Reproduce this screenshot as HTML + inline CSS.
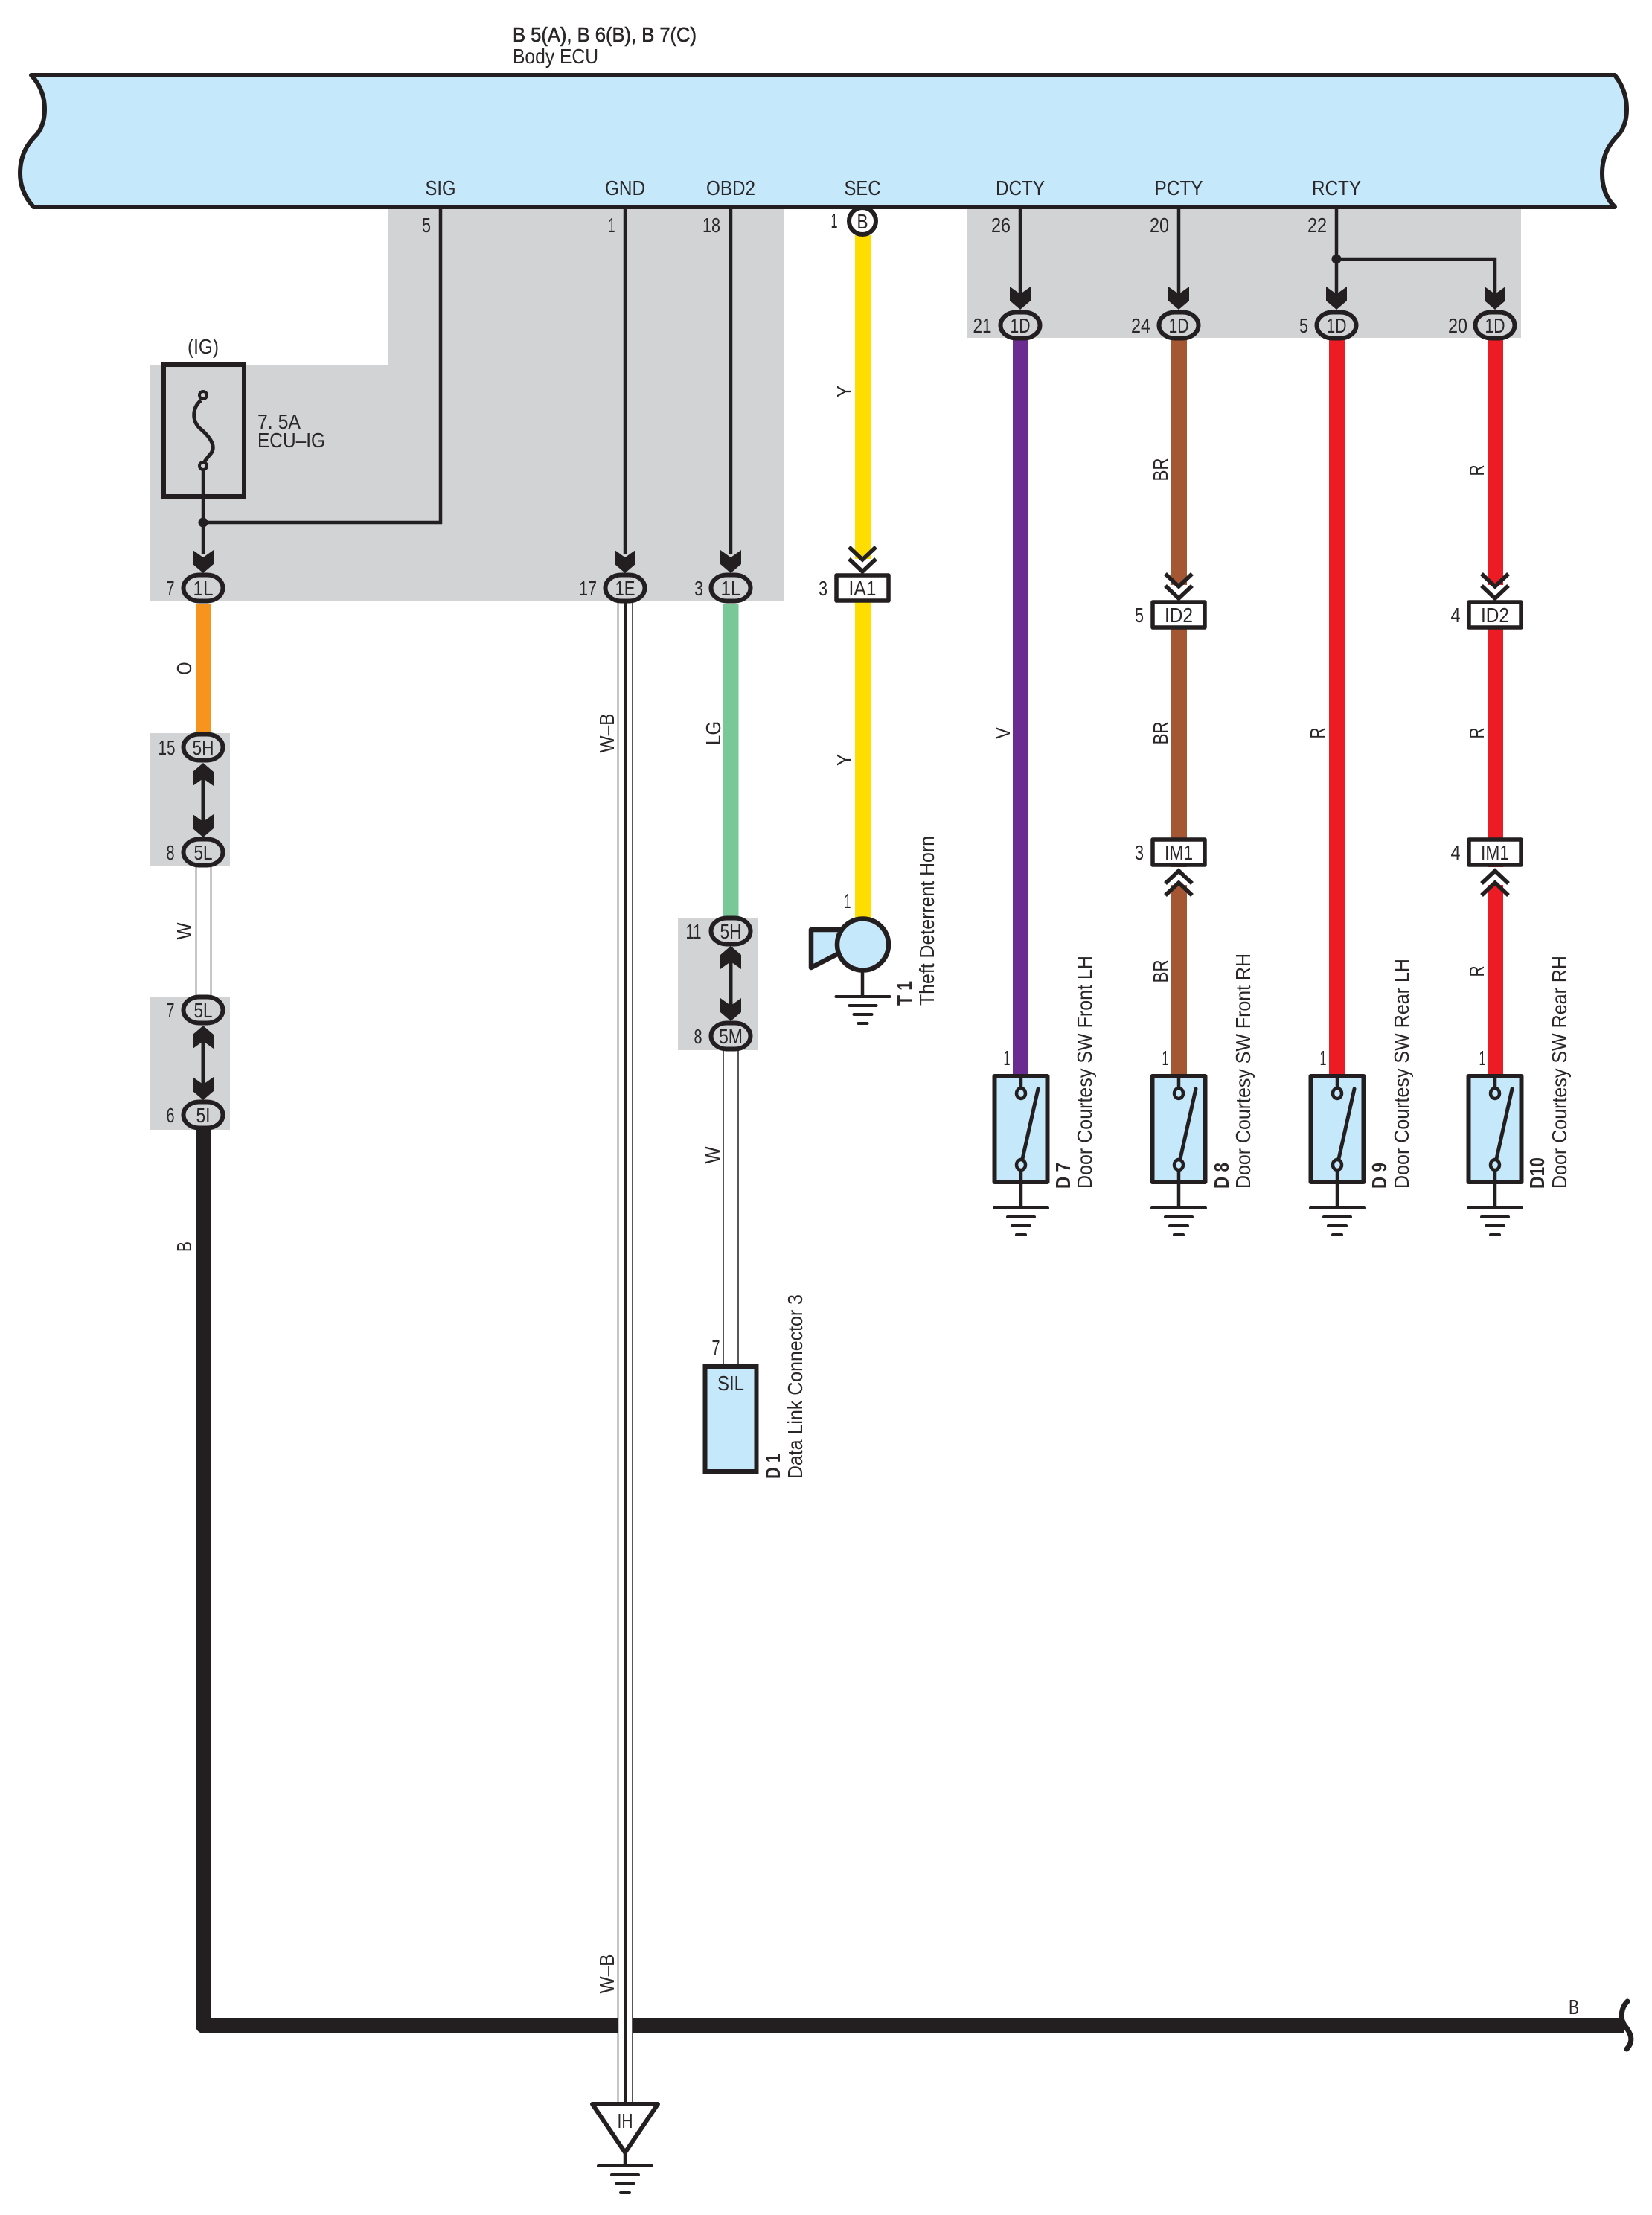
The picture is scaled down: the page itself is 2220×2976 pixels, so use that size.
<!DOCTYPE html>
<html><head><meta charset="utf-8"><style>
html,body{margin:0;padding:0;background:#fff}
svg{display:block}
text{font-family:"Liberation Sans",sans-serif;font-size:28px;fill:#2b2728;text-anchor:middle}
.l{text-anchor:start}
.r{text-anchor:end}
.b{font-weight:bold}
</style></head><body>
<svg xmlns="http://www.w3.org/2000/svg" width="2220" height="2976" viewBox="0 0 2220 2976">
<defs>
<g id="ar"><polygon points="-14,-31 0,-21 14,-31 14,-12 0,0 -14,-12" fill="#231f20"/></g>
<g id="co"><rect x="-26.5" y="-17.5" width="53" height="35" rx="21" ry="17.5" fill="#d1d3d4" stroke="#231f20" stroke-width="6"/></g>
<g id="bx"><rect x="-35" y="-17" width="70" height="34" fill="#fff" stroke="#231f20" stroke-width="5.5" stroke-linejoin="round"/></g>
<g id="ch" fill="none" stroke="#231f20" stroke-width="5.5"><polyline points="-18,0 0,17 18,0"/><polyline points="-18,16 0,33 18,16"/></g>
<g id="cu" fill="none" stroke="#231f20" stroke-width="5.5"><polyline points="-18,-0 0,-17 18,-0"/><polyline points="-18,-16 0,-33 18,-16"/></g>
<g id="gd" stroke="#231f20" stroke-width="4" stroke-linecap="round"><line x1="-36" x2="36" y1="0" y2="0"/><line x1="-18" x2="18" y1="12" y2="12"/><line x1="-12" x2="12" y1="24" y2="24"/><line x1="-6" x2="6" y1="36" y2="36"/></g>
<g id="sw">
<rect x="-35.5" y="2" width="71" height="142" fill="#c5e8fb" stroke="#231f20" stroke-width="6" stroke-linejoin="round"/>
<line x1="0" x2="0" y1="0" y2="18" stroke="#231f20" stroke-width="4.5"/>
<ellipse cx="0" cy="25" rx="6" ry="7" fill="#c5e8fb" stroke="#231f20" stroke-width="4.5"/>
<ellipse cx="0" cy="121" rx="6" ry="7" fill="#c5e8fb" stroke="#231f20" stroke-width="4.5"/>
<line x1="2" x2="23" y1="113" y2="19" stroke="#231f20" stroke-width="5" stroke-linecap="round"/>
<line x1="0" x2="0" y1="128" y2="144" stroke="#231f20" stroke-width="4.5"/>
<line x1="0" x2="0" y1="144" y2="179" stroke="#231f20" stroke-width="4.5"/>
<use href="#gd" y="179"/>
</g>
</defs>

<!-- grey areas -->
<polygon points="521,278 1053,278 1053,808 202,808 202,490 521,490" fill="#d1d3d4"/>
<rect x="1300" y="278" width="744" height="176" fill="#d1d3d4"/>
<rect x="202" y="985" width="107" height="178" fill="#d1d3d4"/>
<rect x="202" y="1340" width="107" height="178" fill="#d1d3d4"/>
<rect x="911" y="1233" width="107" height="178" fill="#d1d3d4"/>

<!-- ECU -->
<path d="M42,101 L2170,101 C2182,116 2186,132 2186,147 C2186,162 2182,172 2176,180 C2166,190 2153,205 2153,233 C2153,253 2160,268 2170,278 L45,278 C36,268 27,253 27,233 C27,205 40,190 50,180 C56,172 60,162 60,147 C60,132 56,116 42,101 Z" fill="#c5e8fb" stroke="#231f20" stroke-width="6" stroke-linejoin="round"/>

<text class="l" x="689" y="56" textLength="247" lengthAdjust="spacingAndGlyphs" stroke="#231f20" stroke-width=".6">B 5(A), B 6(B), B 7(C)</text>
<text class="l" x="689" y="85" textLength="115" lengthAdjust="spacingAndGlyphs">Body ECU</text>
<text x="592" y="262" textLength="41" lengthAdjust="spacingAndGlyphs">SIG</text>
<text x="840" y="262" textLength="54" lengthAdjust="spacingAndGlyphs">GND</text>
<text x="982" y="262" textLength="66" lengthAdjust="spacingAndGlyphs">OBD2</text>
<text x="1159" y="262" textLength="49" lengthAdjust="spacingAndGlyphs">SEC</text>
<text x="1371" y="262" textLength="66" lengthAdjust="spacingAndGlyphs">DCTY</text>
<text x="1584" y="262" textLength="65" lengthAdjust="spacingAndGlyphs">PCTY</text>
<text x="1796" y="262" textLength="66" lengthAdjust="spacingAndGlyphs">RCTY</text>

<!-- thin wires -->
<g stroke="#231f20" stroke-width="4.5" fill="none">
<polyline points="273,631 273,745"/>
<polyline points="273,702 592,702 592,278"/>
<line x1="840" x2="840" y1="278" y2="745"/>
<line x1="982" x2="982" y1="278" y2="745"/>
<line x1="1371" x2="1371" y1="278" y2="395"/>
<line x1="1584" x2="1584" y1="278" y2="395"/>
<line x1="1796" x2="1796" y1="278" y2="395"/>
<polyline points="1796,348 2009,348 2009,395"/>
</g>
<circle cx="273" cy="702" r="6.5" fill="#231f20"/>
<circle cx="1796" cy="348" r="6.5" fill="#231f20"/>

<!-- fuse -->
<rect x="220" y="490" width="108" height="177" fill="none" stroke="#231f20" stroke-width="6"/>
<path d="M270,538 C258,548 258,565 268,575 C280,585 294,600 281,612 L275,620" fill="none" stroke="#231f20" stroke-width="5"/>
<ellipse cx="273" cy="531" rx="5" ry="5" fill="#d1d3d4" stroke="#231f20" stroke-width="4"/>
<ellipse cx="273" cy="626" rx="5" ry="5" fill="#d1d3d4" stroke="#231f20" stroke-width="4"/>
<text x="273" y="475" textLength="42" lengthAdjust="spacingAndGlyphs">(IG)</text>
<text class="l" x="346" y="576" textLength="58" lengthAdjust="spacingAndGlyphs">7. 5A</text>
<text class="l" x="346" y="601" textLength="91" lengthAdjust="spacingAndGlyphs">ECU–IG</text>

<!-- black B wire -->
<path d="M273.5,1518 L273.5,2721.5 L2183,2721.5" fill="none" stroke="#231f20" stroke-width="21" stroke-linejoin="round"/>
<path d="M2187,2689 C2178,2698 2177,2712 2183,2721 C2192,2732 2196,2742 2186,2753" fill="none" stroke="#231f20" stroke-width="7" stroke-linecap="round"/>
<text x="2115" y="2706" textLength="14" lengthAdjust="spacingAndGlyphs">B</text>

<!-- colored wires -->
<rect x="263" y="811" width="21" height="172" fill="#f7941d"/>
<rect x="971.5" y="811" width="21" height="421" fill="#7ac797"/>
<rect x="1149" y="316" width="21" height="435" fill="#ffdd00"/>
<rect x="1149" y="808" width="21" height="426" fill="#ffdd00"/>
<rect x="1361" y="456" width="21" height="988" fill="#6b2c91"/>
<rect x="1574" y="456" width="21" height="330" fill="#a55632"/>
<rect x="1574" y="845" width="21" height="282" fill="#a55632"/>
<rect x="1574" y="1163" width="21" height="281" fill="#a55632"/>
<rect x="1786" y="456" width="21" height="988" fill="#ed1c24"/>
<rect x="1999" y="456" width="21" height="330" fill="#ed1c24"/>
<rect x="1999" y="845" width="21" height="282" fill="#ed1c24"/>
<rect x="1999" y="1163" width="21" height="281" fill="#ed1c24"/>

<!-- white-gap overdraw for arrows from below IM1 -->
<rect x="1570" y="1165" width="29" height="24" fill="#fff"/>
<rect x="1995" y="1165" width="29" height="24" fill="#fff"/>
<polygon points="1574,1195 1584.5,1186 1595,1195" fill="#a55632"/>
<polygon points="1999,1195 2009.5,1186 2020,1195" fill="#ed1c24"/>

<!-- W wires -->
<g stroke="#231f20" stroke-width="1.5">
<line x1="263.5" x2="263.5" y1="1163" y2="1340"/>
<line x1="283.5" x2="283.5" y1="1163" y2="1340"/>
<line x1="972" x2="972" y1="1411" y2="1836"/>
<line x1="992" x2="992" y1="1411" y2="1836"/>
</g>

<!-- W-B wire -->
<rect x="830.5" y="808" width="19.5" height="2019" fill="#fff"/>
<line x1="830.5" x2="830.5" y1="808" y2="2827" stroke="#231f20" stroke-width="1.5"/>
<line x1="850" x2="850" y1="808" y2="2827" stroke="#231f20" stroke-width="1.5"/>
<line x1="840.5" x2="840.5" y1="808" y2="2827" stroke="#231f20" stroke-width="5"/>

<!-- IH -->
<polygon points="796,2827 884,2827 840,2892" fill="#fff" stroke="#231f20" stroke-width="6" stroke-linejoin="round"/>
<line x1="840" x2="840" y1="2892" y2="2910" stroke="#231f20" stroke-width="4.5"/>
<use href="#gd" x="840" y="2910"/>
<text x="840" y="2859" textLength="21" lengthAdjust="spacingAndGlyphs">IH</text>

<!-- arrows in grey -->
<use href="#ar" x="273" y="770"/>
<use href="#ar" x="840" y="770"/>
<use href="#ar" x="982" y="770"/>
<use href="#ar" x="1371" y="416"/>
<use href="#ar" x="1584" y="416"/>
<use href="#ar" x="1796" y="416"/>
<use href="#ar" x="2009" y="416"/>

<!-- double arrows -->
<g stroke="#231f20" stroke-width="5">
<line x1="273" x2="273" y1="1040" y2="1110"/>
<line x1="273" x2="273" y1="1393" y2="1465"/>
<line x1="982" x2="982" y1="1285" y2="1355"/>
</g>
<use href="#ar" transform="translate(273,1025) scale(1,-1)"/>
<use href="#ar" x="273" y="1125"/>
<use href="#ar" transform="translate(273,1378) scale(1,-1)"/>
<use href="#ar" x="273" y="1478"/>
<use href="#ar" transform="translate(982,1271) scale(1,-1)"/>
<use href="#ar" x="982" y="1372"/>

<!-- oval connectors -->
<use href="#co" x="273" y="790"/><text x="273" y="800" textLength="27" lengthAdjust="spacingAndGlyphs">1L</text>
<use href="#co" x="840" y="790"/><text x="840" y="800" textLength="27" lengthAdjust="spacingAndGlyphs">1E</text>
<use href="#co" x="982" y="790"/><text x="982" y="800" textLength="27" lengthAdjust="spacingAndGlyphs">1L</text>
<use href="#co" x="273" y="1004"/><text x="273" y="1014" textLength="29" lengthAdjust="spacingAndGlyphs">5H</text>
<use href="#co" x="273" y="1145"/><text x="273" y="1155" textLength="25" lengthAdjust="spacingAndGlyphs">5L</text>
<use href="#co" x="273" y="1357"/><text x="273" y="1367" textLength="25" lengthAdjust="spacingAndGlyphs">5L</text>
<use href="#co" x="273" y="1498"/><text x="273" y="1508" textLength="19" lengthAdjust="spacingAndGlyphs">5I</text>
<use href="#co" x="982" y="1251"/><text x="982" y="1261" textLength="29" lengthAdjust="spacingAndGlyphs">5H</text>
<use href="#co" x="982" y="1392"/><text x="982" y="1402" textLength="32" lengthAdjust="spacingAndGlyphs">5M</text>
<use href="#co" x="1371" y="437"/><text x="1371" y="447" textLength="27" lengthAdjust="spacingAndGlyphs">1D</text>
<use href="#co" x="1584" y="437"/><text x="1584" y="447" textLength="27" lengthAdjust="spacingAndGlyphs">1D</text>
<use href="#co" x="1796" y="437"/><text x="1796" y="447" textLength="27" lengthAdjust="spacingAndGlyphs">1D</text>
<use href="#co" x="2009" y="437"/><text x="2009" y="447" textLength="27" lengthAdjust="spacingAndGlyphs">1D</text>

<!-- SEC connector -->
<circle cx="1159" cy="297" r="18" fill="#fff" stroke="#231f20" stroke-width="6"/>
<text x="1159" y="307" textLength="15" lengthAdjust="spacingAndGlyphs">B</text>

<!-- chevrons & box connectors -->
<use href="#ch" x="1159" y="735"/>
<use href="#bx" x="1159" y="790"/><text x="1159" y="800" textLength="37" lengthAdjust="spacingAndGlyphs">IA1</text>
<use href="#ch" x="1584" y="771"/>
<use href="#bx" x="1584" y="826"/><text x="1584" y="836" textLength="38" lengthAdjust="spacingAndGlyphs">ID2</text>
<use href="#ch" x="2009" y="771"/>
<use href="#bx" x="2009" y="826"/><text x="2009" y="836" textLength="38" lengthAdjust="spacingAndGlyphs">ID2</text>
<use href="#cu" x="1584" y="1203"/>
<use href="#bx" x="1584" y="1145"/><text x="1584" y="1155" textLength="38" lengthAdjust="spacingAndGlyphs">IM1</text>
<use href="#cu" x="2009" y="1203"/>
<use href="#bx" x="2009" y="1145"/><text x="2009" y="1155" textLength="38" lengthAdjust="spacingAndGlyphs">IM1</text>

<!-- pin numbers -->
<text x="573" y="312" textLength="12" lengthAdjust="spacingAndGlyphs">5</text>
<text x="822" y="312" textLength="9" lengthAdjust="spacingAndGlyphs">1</text>
<text x="956" y="312" textLength="24" lengthAdjust="spacingAndGlyphs">18</text>
<text x="1345" y="312" textLength="26" lengthAdjust="spacingAndGlyphs">26</text>
<text x="1558" y="312" textLength="26" lengthAdjust="spacingAndGlyphs">20</text>
<text x="1770" y="312" textLength="26" lengthAdjust="spacingAndGlyphs">22</text>
<text x="1121" y="306" textLength="9" lengthAdjust="spacingAndGlyphs">1</text>
<text x="229" y="800" textLength="11" lengthAdjust="spacingAndGlyphs">7</text>
<text x="790" y="800" textLength="24" lengthAdjust="spacingAndGlyphs">17</text>
<text x="939" y="800" textLength="12" lengthAdjust="spacingAndGlyphs">3</text>
<text x="1106" y="800" textLength="12" lengthAdjust="spacingAndGlyphs">3</text>
<text x="1320" y="447" textLength="25" lengthAdjust="spacingAndGlyphs">21</text>
<text x="1533" y="447" textLength="26" lengthAdjust="spacingAndGlyphs">24</text>
<text x="1752" y="447" textLength="12" lengthAdjust="spacingAndGlyphs">5</text>
<text x="1959" y="447" textLength="26" lengthAdjust="spacingAndGlyphs">20</text>
<text x="1531" y="836" textLength="12" lengthAdjust="spacingAndGlyphs">5</text>
<text x="1956" y="836" textLength="13" lengthAdjust="spacingAndGlyphs">4</text>
<text x="1531" y="1155" textLength="12" lengthAdjust="spacingAndGlyphs">3</text>
<text x="1956" y="1155" textLength="13" lengthAdjust="spacingAndGlyphs">4</text>
<text x="224" y="1014" textLength="23" lengthAdjust="spacingAndGlyphs">15</text>
<text x="229" y="1155" textLength="11" lengthAdjust="spacingAndGlyphs">8</text>
<text x="229" y="1367" textLength="11" lengthAdjust="spacingAndGlyphs">7</text>
<text x="229" y="1508" textLength="11" lengthAdjust="spacingAndGlyphs">6</text>
<text x="932" y="1261" textLength="21" lengthAdjust="spacingAndGlyphs">11</text>
<text x="938" y="1402" textLength="11" lengthAdjust="spacingAndGlyphs">8</text>
<text x="962" y="1820" textLength="11" lengthAdjust="spacingAndGlyphs">7</text>
<text x="1139" y="1220" textLength="9" lengthAdjust="spacingAndGlyphs">1</text>
<text x="1353" y="1431" textLength="9" lengthAdjust="spacingAndGlyphs">1</text>
<text x="1566" y="1431" textLength="9" lengthAdjust="spacingAndGlyphs">1</text>
<text x="1778" y="1431" textLength="9" lengthAdjust="spacingAndGlyphs">1</text>
<text x="1992" y="1431" textLength="9" lengthAdjust="spacingAndGlyphs">1</text>

<!-- SIL -->
<rect x="947.5" y="1836" width="69" height="141" fill="#c5e8fb" stroke="#231f20" stroke-width="6"/>
<text x="982" y="1868" textLength="36" lengthAdjust="spacingAndGlyphs">SIL</text>

<!-- Horn -->
<polygon points="1090,1249 1132,1249 1127,1281 1090,1300" fill="#c5e8fb" stroke="#231f20" stroke-width="6.5" stroke-linejoin="round"/>
<circle cx="1159.5" cy="1269" r="34.5" fill="#c5e8fb" stroke="#231f20" stroke-width="6.5"/>
<line x1="1159" x2="1159" y1="1305" y2="1339" stroke="#231f20" stroke-width="4.5"/>
<use href="#gd" x="1159.5" y="1339"/>

<!-- switches -->
<use href="#sw" x="1372" y="1444"/>
<use href="#sw" x="1584" y="1444"/>
<use href="#sw" x="1797" y="1444"/>
<use href="#sw" x="2009" y="1444"/>

<!-- rotated wire colour labels -->
<g>
<text transform="translate(257,898) rotate(-90)" textLength="17" lengthAdjust="spacingAndGlyphs">O</text>
<text transform="translate(257,1251) rotate(-90)" textLength="23" lengthAdjust="spacingAndGlyphs">W</text>
<text transform="translate(257,1675) rotate(-90)" textLength="14" lengthAdjust="spacingAndGlyphs">B</text>
<text transform="translate(825,985) rotate(-90)" textLength="53" lengthAdjust="spacingAndGlyphs">W–B</text>
<text transform="translate(825,2652) rotate(-90)" textLength="53" lengthAdjust="spacingAndGlyphs">W–B</text>
<text transform="translate(968,985) rotate(-90)" textLength="32" lengthAdjust="spacingAndGlyphs">LG</text>
<text transform="translate(967,1552) rotate(-90)" textLength="23" lengthAdjust="spacingAndGlyphs">W</text>
<text transform="translate(1144,526) rotate(-90)" textLength="16" lengthAdjust="spacingAndGlyphs">Y</text>
<text transform="translate(1144,1021) rotate(-90)" textLength="16" lengthAdjust="spacingAndGlyphs">Y</text>
<text transform="translate(1357,985) rotate(-90)" textLength="16" lengthAdjust="spacingAndGlyphs">V</text>
<text transform="translate(1569,631) rotate(-90)" textLength="31" lengthAdjust="spacingAndGlyphs">BR</text>
<text transform="translate(1569,985) rotate(-90)" textLength="31" lengthAdjust="spacingAndGlyphs">BR</text>
<text transform="translate(1569,1305) rotate(-90)" textLength="31" lengthAdjust="spacingAndGlyphs">BR</text>
<text transform="translate(1780,985) rotate(-90)" textLength="15" lengthAdjust="spacingAndGlyphs">R</text>
<text transform="translate(1994,632) rotate(-90)" textLength="15" lengthAdjust="spacingAndGlyphs">R</text>
<text transform="translate(1994,985) rotate(-90)" textLength="15" lengthAdjust="spacingAndGlyphs">R</text>
<text transform="translate(1994,1305) rotate(-90)" textLength="15" lengthAdjust="spacingAndGlyphs">R</text>
</g>

<!-- component labels -->
<g>
<text class="l b" transform="translate(1048,1987) rotate(-90)" textLength="34" lengthAdjust="spacingAndGlyphs">D 1</text>
<text class="l" transform="translate(1078,1987) rotate(-90)" textLength="248" lengthAdjust="spacingAndGlyphs">Data Link Connector 3</text>
<text class="l b" transform="translate(1225,1351) rotate(-90)" textLength="33" lengthAdjust="spacingAndGlyphs">T 1</text>
<text class="l" transform="translate(1255,1351) rotate(-90)" textLength="228" lengthAdjust="spacingAndGlyphs">Theft Deterrent Horn</text>
<text class="l b" transform="translate(1438,1597) rotate(-90)" textLength="35" lengthAdjust="spacingAndGlyphs">D 7</text>
<text class="l" transform="translate(1467,1597) rotate(-90)" textLength="313" lengthAdjust="spacingAndGlyphs">Door Courtesy SW Front LH</text>
<text class="l b" transform="translate(1651,1597) rotate(-90)" textLength="35" lengthAdjust="spacingAndGlyphs">D 8</text>
<text class="l" transform="translate(1680,1597) rotate(-90)" textLength="316" lengthAdjust="spacingAndGlyphs">Door Courtesy SW Front RH</text>
<text class="l b" transform="translate(1863,1597) rotate(-90)" textLength="35" lengthAdjust="spacingAndGlyphs">D 9</text>
<text class="l" transform="translate(1893,1597) rotate(-90)" textLength="309" lengthAdjust="spacingAndGlyphs">Door Courtesy SW Rear LH</text>
<text class="l b" transform="translate(2075,1597) rotate(-90)" textLength="42" lengthAdjust="spacingAndGlyphs">D10</text>
<text class="l" transform="translate(2105,1597) rotate(-90)" textLength="313" lengthAdjust="spacingAndGlyphs">Door Courtesy SW Rear RH</text>
</g>
</svg>
</body></html>
